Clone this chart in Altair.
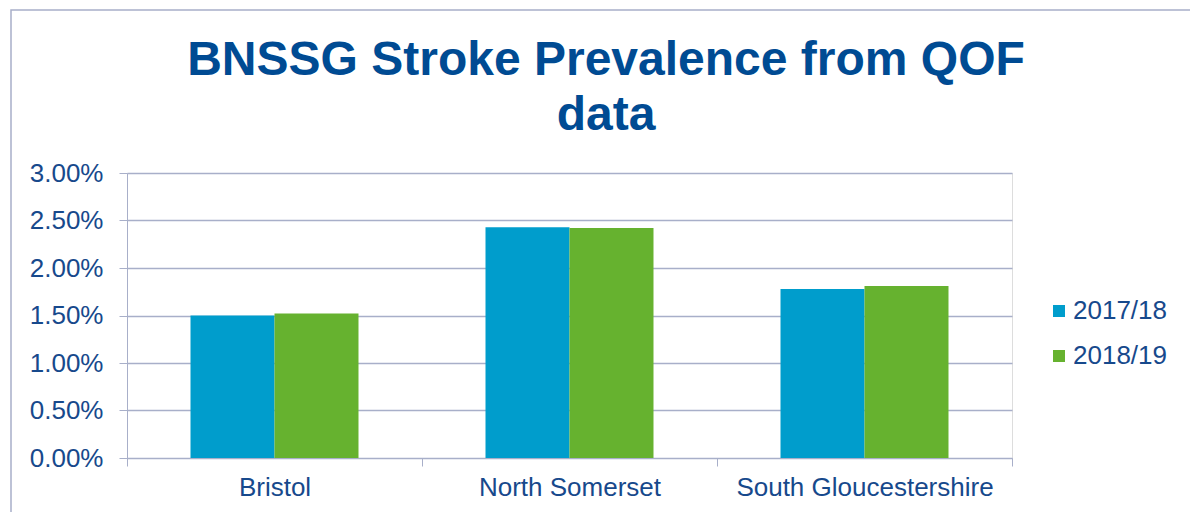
import altair as alt
import pandas as pd

regions = ["Bristol", "North Somerset", "South Gloucestershire"]
years = ["2017/18", "2018/19"]
prev_2017 = [0.0150, 0.0243, 0.0178]
prev_2018 = [0.0152, 0.0242, 0.0181]
colors = ["#009DCC", "#66B22F"]
y_ticks = [0.0, 0.005, 0.01, 0.015, 0.02, 0.025, 0.03]
title_lines = ["BNSSG Stroke Prevalence from QOF", "data"]

rows = []
for r, a, b in zip(regions, prev_2017, prev_2018):
    rows.append({"region": r, "year": years[0], "value": a})
    rows.append({"region": r, "year": years[1], "value": b})
df = pd.DataFrame(rows)

FONT = "Liberation Sans"
TXT = "#17498C"
GRID = "#A8AFC9"
FS = 26

bars = alt.Chart(df).mark_bar().encode(
    x=alt.X("region:N", sort=regions, title=None,
            scale=alt.Scale(paddingInner=0, paddingOuter=0),
            axis=alt.Axis(labelAngle=0, tickBand="extent", tickSize=8,
                          labelPadding=8, labelFontSize=FS, labelColor=TXT,
                          labelFont=FONT, labelLimit=0, domainColor=GRID,
                          tickColor=GRID, grid=False)),
    xOffset=alt.XOffset("year:N", sort=years,
                        scale=alt.Scale(paddingOuter=0.756, paddingInner=0)),
    y=alt.Y("value:Q", title=None,
            scale=alt.Scale(domain=[0, 0.03], nice=False),
            axis=alt.Axis(values=y_ticks, format=".2%", tickSize=8,
                          labelPadding=16, labelFontSize=FS, labelColor=TXT,
                          labelFont=FONT, domainColor=GRID, tickColor=GRID,
                          gridColor=GRID, gridWidth=1.5)),
    color=alt.Color("year:N", sort=years,
                    scale=alt.Scale(domain=years, range=colors),
                    legend=alt.Legend(title=None, orient="none",
                                      legendX=919, legendY=125,
                                      symbolType="square", symbolSize=144,
                                      symbolStrokeWidth=0,
                                      labelFontSize=FS, labelColor=TXT,
                                      labelFont=FONT, rowPadding=19,
                                      labelOffset=1)),
)

border = alt.Chart(pd.DataFrame({"k": [0]})).mark_rect(
    fill="transparent", stroke=GRID, strokeWidth=1.5
).encode(
    x=alt.value(-116), x2=alt.value(1100),
    y=alt.value(-163), y2=alt.value(360),
)

title = alt.Chart(pd.DataFrame({"k": [0]})).mark_text(
    font=FONT, fontSize=48, fontWeight="bold", color="#004B93",
    align="center", baseline="alphabetic", lineHeight=55,
).encode(
    x=alt.value(479), y=alt.value(-98), text=alt.value(title_lines),
)

chart = alt.layer(border, title, bars).properties(
    width=885, height=285,
    autosize=alt.AutoSizeParams(type="none"),
    padding={"left": 127, "top": 173, "right": 178, "bottom": 54},
).configure_view(strokeWidth=0).configure(background="white")

chart.save("out.html", embed_options={"renderer": "svg", "actions": False})
